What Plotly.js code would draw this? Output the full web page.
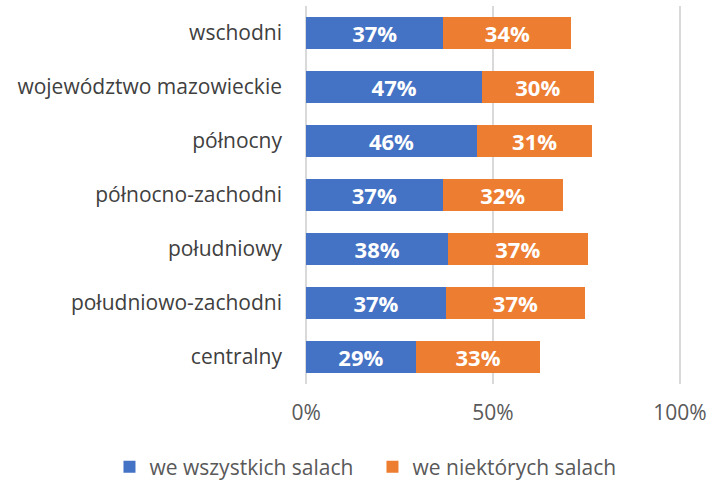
<!DOCTYPE html>
<html><head><meta charset="utf-8">
<script src="https://cdn.plot.ly/plotly-3.0.1.min.js"></script>
<style>html,body{margin:0;padding:0;background:#fff}#chart{width:713px;height:480px}</style>
</head><body><div id="chart"></div>
<script>
const categories = ["wschodni","województwo mazowieckie","północny","północno-zachodni","południowy","południowo-zachodni","centralny"];
const allRooms = [36.7, 47.1, 45.7, 36.5, 38.0, 37.4, 29.3];
const someRooms = [34.3, 29.8, 30.9, 32.2, 37.3, 37.2, 33.4];
const seriesNames = ["we wszystkich salach","we niektórych salach"];
const tickVals = [0, 50, 100];

const fontFam = "'Open Sans', sans-serif";
function mk(vals, name, color){
  return {
    type:'bar', orientation:'h', y:categories, x:vals, name:name,
    marker:{color:color},
    text: vals.map(v=>Math.round(v)+'%'), textposition:'inside', insidetextanchor:'middle',
    constraintext:'none',
    textfont:{color:'#ffffff', size:22, family:fontFam, weight:'bold'},
    hoverinfo:'none'
  };
}
const data = [mk(allRooms, seriesNames[0], '#4472c4'), mk(someRooms, seriesNames[1], '#ed7d31')];
const layout = {
  width:713, height:480, barmode:'stack', bargap:0.425,
  margin:{l:305, r:32, t:6, b:96, autoexpand:false},
  paper_bgcolor:'#fff', plot_bgcolor:'#fff',
  font:{family:fontFam, size:21, color:'#404040'},
  xaxis:{range:[-0.3,100.3], tickvals:tickVals, ticktext:tickVals.map(v=>v+'%'), showgrid:true, gridcolor:'#d9d9d9', gridwidth:1.5,
         zeroline:false, showline:false, ticks:'', tickfont:{size:21, color:'#595959'}, ticklabelstandoff:14, fixedrange:true, automargin:false},
  yaxis:{autorange:'reversed', ticks:'', showline:false, tickfont:{size:21, color:'#404040'}, ticklabelstandoff:22, fixedrange:true, automargin:false},
  showlegend:true,
  legend:{orientation:'h', xref:'paper', x:-0.52, xanchor:'left', yref:'paper', y:-0.22, yanchor:'middle',
          font:{size:21, color:'#595959'}, traceorder:'normal', itemwidth:30, entrywidth:218, entrywidthmode:'pixels'},
  uniformtext:{mode:'show', minsize:22}
};
Plotly.newPlot('chart', data, layout, {staticPlot:true, displayModeBar:false});
</script></body></html>
